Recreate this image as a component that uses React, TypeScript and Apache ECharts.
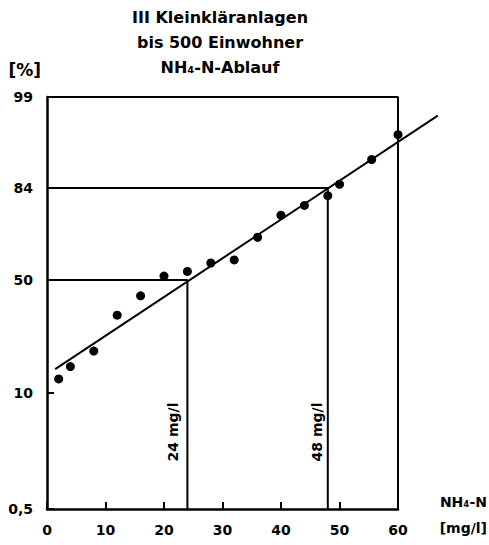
import React, { useEffect, useRef } from 'react';
import * as echarts from 'echarts';

// ---- Data ----
const titleLines = ['III Kleinkläranlagen', 'bis 500 Einwohner', 'NH₄-N-Ablauf'];
const yAxisName = '[%]';
const xAxisNameLines = ['NH₄-N', '[mg/l]'];

// probability-paper ticks (percent) and their labels
const probTicks = [0.5, 10, 50, 84, 99];
const probTickLabels = ['0,5', '10', '50', '84', '99'];
// where each tick sits on the hand-drawn probability paper (fraction of axis height)
const probTickFrac = [0, 0.2816, 0.5558, 0.7791, 1];

// measured NH4-N outflow concentrations [mg/l] and their cumulative percentages [%]
const concentration = [2, 4, 8, 12, 16, 20, 24, 28, 32, 36, 40, 44, 48, 50, 55.5, 60];
const percentile = [13.1, 16.3, 21.0, 34.5, 42.9, 51.7, 53.7, 57.3, 58.6, 67.8, 75.8, 79.0, 81.9, 85.3, 92.1, 96.2];

// fitted straight line (start / end)
const fitX = [1.4, 66.8];
const fitP = [15.6, 98.0];

// reading lines: 50 % -> 24 mg/l, 84 % -> 48 mg/l, 99 % -> 60 mg/l
const readPercent = [50, 84, 99];
const readConc = [24, 48, 60];
const readLabels = ['24 mg/l', '48 mg/l', ''];
const readLabelPct = 4.3;

// ---- Probability scale helpers ----
function normInv(p: number): number {
  const a = [-3.969683028665376e1, 2.209460984245205e2, -2.759285104469687e2, 1.38357751867269e2, -3.066479806614716e1, 2.506628277459239];
  const b = [-5.447609879822406e1, 1.615858368580409e2, -1.556989798598866e2, 6.680131188771972e1, -1.328068155288572e1];
  const c = [-7.784894002430293e-3, -3.223964580411365e-1, -2.400758277161838, -2.549671688276485, 4.374664141464968, 2.938163982698783];
  const d = [7.784695709041462e-3, 3.224671290700398e-1, 2.445134137142996, 3.754408661907416];
  const pl = 0.02425;
  let q: number;
  let r: number;
  if (p < pl) {
    q = Math.sqrt(-2 * Math.log(p));
    return (((((c[0] * q + c[1]) * q + c[2]) * q + c[3]) * q + c[4]) * q + c[5]) / ((((d[0] * q + d[1]) * q + d[2]) * q + d[3]) * q + 1);
  }
  if (p <= 1 - pl) {
    q = p - 0.5;
    r = q * q;
    return ((((((a[0] * r + a[1]) * r + a[2]) * r + a[3]) * r + a[4]) * r + a[5]) * q) / (((((b[0] * r + b[1]) * r + b[2]) * r + b[3]) * r + b[4]) * r + 1);
  }
  q = Math.sqrt(-2 * Math.log(1 - p));
  return -(((((c[0] * q + c[1]) * q + c[2]) * q + c[3]) * q + c[4]) * q + c[5]) / ((((d[0] * q + d[1]) * q + d[2]) * q + d[3]) * q + 1);
}

const knotZ = probTicks.map((p) => normInv(p / 100));

function probPos(pct: number): number {
  const z = normInv(pct / 100);
  let i = 0;
  while (i < knotZ.length - 2 && z > knotZ[i + 1]) i++;
  const t = (z - knotZ[i]) / (knotZ[i + 1] - knotZ[i]);
  return probTickFrac[i] + t * (probTickFrac[i + 1] - probTickFrac[i]);
}

export default function App() {
  const ref = useRef<HTMLDivElement>(null);

  useEffect(() => {
    if (!ref.current) return;
    const chart = echarts.init(ref.current, undefined, { renderer: 'svg' });
    const font = 'DejaVu Sans';
    const black = '#000';

    const points = concentration.map((x, i) => [x, probPos(percentile[i])]);
    const fitSegment = [[fitX[0], probPos(fitP[0]), fitX[1], probPos(fitP[1])]];

    const readSeries = readPercent.map((p, i) => ({
      type: 'line',
      data: [
        [0, probPos(p)],
        [readConc[i], probPos(p)],
        [readConc[i], probPos(probTicks[0])],
      ],
      symbol: 'none',
      lineStyle: { color: black, width: 2 },
      silent: true,
      z: 2,
    }));

    const nameRich = {
      a: { fontFamily: font, fontSize: 14, fontWeight: 'bold', color: black, lineHeight: 38, align: 'right' },
      b: { fontFamily: font, fontSize: 14, fontWeight: 'bold', color: black, lineHeight: 14, align: 'right' },
    };

    const option: any = {
      animation: false,
      backgroundColor: '#fff',
      textStyle: { fontFamily: font },
      title: {
        text: titleLines.join('\n'),
        left: 215,
        top: 0,
        textAlign: 'center',
        textStyle: { fontFamily: font, fontSize: 16, fontWeight: 'bold', color: black, lineHeight: 25 },
      },
      grid: { left: 47, right: 91, top: 97, bottom: 36, outerBoundsMode: 'none' },
      xAxis: {
        type: 'value',
        min: 0,
        max: 60,
        interval: 10,
        name: `{a|${xAxisNameLines[0]}}\n{b|${xAxisNameLines[1]}}`,
        nameLocation: 'end',
        nameGap: 89,
        nameTextStyle: { fontFamily: font, fontSize: 14, fontWeight: 'bold', color: black, align: 'right', verticalAlign: 'middle', rich: nameRich },
        axisLine: { show: true, lineStyle: { color: black, width: 2.5 } },
        axisTick: { show: true, inside: true, length: 7, lineStyle: { color: black, width: 2 } },
        axisLabel: { margin: 14, fontFamily: font, fontSize: 14, fontWeight: 'bold', color: black },
        splitLine: { show: false },
      },
      yAxis: {
        type: 'value',
        min: 0,
        max: 1,
        name: yAxisName,
        nameLocation: 'end',
        nameGap: 27,
        nameTextStyle: { fontFamily: font, fontSize: 17, fontWeight: 'bold', color: black, align: 'right', verticalAlign: 'middle', padding: [0, 6, 0, 0] },
        axisLine: { show: true, lineStyle: { color: black, width: 2.5 } },
        axisTick: { show: true, inside: true, length: 7, customValues: probTickFrac, lineStyle: { color: black, width: 2 } },
        axisLabel: {
          margin: 14,
          fontFamily: font,
          fontSize: 14,
          fontWeight: 'bold',
          color: black,
          customValues: probTickFrac,
          formatter: (v: number) => {
            let best = 0;
            probTickFrac.forEach((f, i) => {
              if (Math.abs(f - v) < Math.abs(probTickFrac[best] - v)) best = i;
            });
            return probTickLabels[best];
          },
        },
        splitLine: { show: false },
      },
      series: [
        ...readSeries,
        {
          type: 'custom',
          data: fitSegment,
          clip: false,
          silent: true,
          z: 3,
          encode: { x: [0, 2], y: [1, 3] },
          renderItem: (_params: any, api: any) => {
            const p1 = api.coord([api.value(0), api.value(1)]);
            const p2 = api.coord([api.value(2), api.value(3)]);
            return {
              type: 'line',
              shape: { x1: p1[0], y1: p1[1], x2: p2[0], y2: p2[1] },
              style: { stroke: black, lineWidth: 2 },
            };
          },
        },
        {
          type: 'scatter',
          data: points,
          symbol: 'circle',
          symbolSize: 9,
          itemStyle: { color: black, opacity: 1 },
          z: 4,
        },
        {
          type: 'scatter',
          symbolSize: 0,
          silent: true,
          itemStyle: { color: black, opacity: 1 },
          data: readConc.slice(0, 2).map((x, i) => ({
            value: [x, probPos(readLabelPct)],
            label: {
              show: true,
              formatter: readLabels[i],
              position: [i === 0 ? -14 : -11, 0],
              rotate: 90,
              align: 'center',
              verticalAlign: 'middle',
              fontFamily: font,
              fontSize: 14,
              fontWeight: 'bold',
              color: black,
              opacity: 1,
            },
          })),
          z: 5,
        },
      ],
    };

    chart.setOption(option);
    return () => chart.dispose();
  }, []);

  return <div ref={ref} style={{ position: 'fixed', left: 0, top: 0, width: 489, height: 545, background: '#fff' }} />;
}
